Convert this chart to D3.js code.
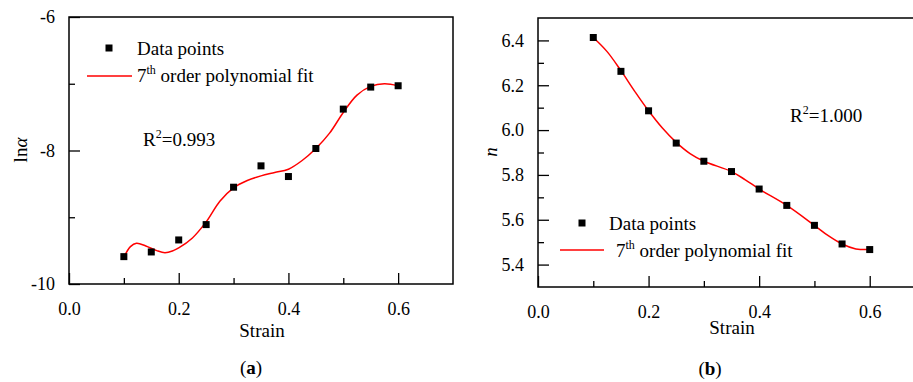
<!DOCTYPE html>
<html>
<head>
<meta charset="utf-8">
<script src="https://cdn.jsdelivr.net/npm/d3@7"></script>
<style>
  body { margin: 0; background: #fff; }
  svg { display: block; }
  svg text { font-family: "Liberation Serif", "Tinos", "Times New Roman", "DejaVu Serif", serif; }
</style>
</head>
<body>
<svg id="chart" width="913" height="382"></svg>
<script>
// ---- data ----
const strain = [0.10, 0.15, 0.20, 0.25, 0.30, 0.35, 0.40, 0.45, 0.50, 0.55, 0.60];

const lnAlpha = [-9.59, -9.52, -9.34, -9.11, -8.55, -8.23, -8.39, -7.97, -7.38, -7.05, -7.03];
const lnAlphaFitX = [0.100, 0.112, 0.123, 0.140, 0.160, 0.175, 0.190, 0.200, 0.225, 0.250, 0.275,
                     0.300, 0.325, 0.350, 0.375, 0.400, 0.425, 0.450, 0.475, 0.500, 0.525, 0.550, 0.575, 0.600];
const lnAlphaFitY = [-9.60, -9.44, -9.39, -9.43, -9.50, -9.53, -9.50, -9.46, -9.31, -9.07, -8.76,
                     -8.56, -8.45, -8.38, -8.33, -8.28, -8.15, -7.97, -7.74, -7.43, -7.17, -7.04, -7.00, -7.03];

const nValues = [6.413, 6.262, 6.086, 5.942, 5.861, 5.815, 5.737, 5.664, 5.575, 5.492, 5.467];
const nFitX = [0.100, 0.125, 0.150, 0.175, 0.200, 0.225, 0.250, 0.275, 0.300, 0.350, 0.375,
               0.400, 0.450, 0.500, 0.525, 0.550, 0.575, 0.600];
const nFitY = [6.413, 6.350, 6.265, 6.173, 6.086, 6.009, 5.945, 5.895, 5.861, 5.815, 5.778,
               5.737, 5.664, 5.575, 5.529, 5.492, 5.470, 5.467];

const xMajorTicks = [0.0, 0.2, 0.4, 0.6];
const xMinorTicks = [0.1, 0.3, 0.5];
const lnAlphaMajorTicks = [-10, -8, -6];
const lnAlphaMinorTicks = [-9, -7];
const nMajorTicks = [5.4, 5.6, 5.8, 6.0, 6.2, 6.4];
const nMinorTicks = [5.5, 5.7, 5.9, 6.1, 6.3];

const legendLabels = ["Data points", "order polynomial fit"];

const svg = d3.select("#chart");

function drawPanel(p) {
    const x = d3.scaleLinear().domain([0, 0.7]).range([p.left, p.right]);
    const y = d3.scaleLinear().domain(p.yDomain).range([p.bottom, p.top]);
    const g = svg.append("g");

    // frame
    g.append("rect")
        .attr("x", p.left).attr("y", p.top)
        .attr("width", p.right - p.left).attr("height", p.bottom - p.top)
        .attr("fill", "none").attr("stroke", "#000").attr("stroke-width", 1.5);

    // x axis: major + minor ticks pointing inward
    g.append("g").attr("class", "ax").attr("transform", `translate(0,${p.bottom})`)
        .call(d3.axisBottom(x).tickValues(xMajorTicks).tickSize(-11).tickSizeOuter(0)
              .tickPadding(18).tickFormat(d3.format(".1f")));
    g.append("g").attr("class", "ax").attr("transform", `translate(0,${p.bottom})`)
        .call(d3.axisBottom(x).tickValues(xMinorTicks).tickSize(-6).tickSizeOuter(0).tickFormat(""));

    // y axis
    g.append("g").attr("class", "ax").attr("transform", `translate(${p.left},0)`)
        .call(d3.axisLeft(y).tickValues(p.yMajor).tickSize(-11).tickSizeOuter(0)
              .tickPadding(14).tickFormat(p.yFormat));
    g.append("g").attr("class", "ax").attr("transform", `translate(${p.left},0)`)
        .call(d3.axisLeft(y).tickValues(p.yMinor).tickSize(-6).tickSizeOuter(0).tickFormat(""));

    g.selectAll(".ax").attr("font-family", null).attr("font-size", null);
    g.selectAll(".domain").remove();
    g.selectAll(".tick line").attr("stroke", "#000").attr("stroke-width", 1.3);
    g.selectAll(".tick text").attr("font-size", 18).attr("fill", "#000");

    // fit curve
    const fit = p.fitX.map((v, i) => [v, p.fitY[i]]);
    g.append("path")
        .datum(fit)
        .attr("fill", "none").attr("stroke", "#ff0000").attr("stroke-width", 1.5)
        .attr("d", d3.line().x(d => x(d[0])).y(d => y(d[1])).curve(d3.curveCatmullRom.alpha(0.5)));

    // data points
    const s = 7;
    g.selectAll("rect.pt")
        .data(strain.map((v, i) => [v, p.values[i]]))
        .join("rect").attr("class", "pt")
        .attr("x", d => x(d[0]) - s / 2).attr("y", d => y(d[1]) - s / 2)
        .attr("width", s).attr("height", s).attr("fill", "#000");

    // legend
    g.append("rect")
        .attr("x", p.legend.markerX - 3.5).attr("y", p.legend.markerY - 3.5)
        .attr("width", 7).attr("height", 7).attr("fill", "#000");
    g.append("text").attr("x", p.legend.text1X).attr("y", p.legend.text1Y)
        .attr("font-size", 19).text(legendLabels[0]);
    g.append("line")
        .attr("x1", p.legend.lineX1).attr("x2", p.legend.lineX2)
        .attr("y1", p.legend.lineY).attr("y2", p.legend.lineY)
        .attr("stroke", "#ff0000").attr("stroke-width", 1.5);
    const t2 = g.append("text").attr("x", p.legend.text2X).attr("y", p.legend.text2Y).attr("font-size", 19);
    t2.append("tspan").text("7");
    t2.append("tspan").attr("font-size", 12).attr("dy", -8).text("th");
    t2.append("tspan").attr("dy", 8).text(" " + legendLabels[1]);

    // R^2
    const r = g.append("text").attr("x", p.r2.x).attr("y", p.r2.y).attr("font-size", 19);
    r.append("tspan").text("R");
    r.append("tspan").attr("font-size", 12).attr("dy", -8).text("2");
    r.append("tspan").attr("dy", 8).text("=" + p.r2.text);

    // axis titles
    g.append("text").attr("x", p.xTitle.x).attr("y", p.xTitle.y)
        .attr("text-anchor", "middle").attr("font-size", 19).text("Strain");
    const yt = g.append("text")
        .attr("transform", `translate(${p.yTitle.x},${p.yTitle.y}) rotate(-90)`)
        .attr("text-anchor", "middle").attr("font-size", 19);
    p.yTitle.parts.forEach(part => {
        yt.append("tspan").attr("font-style", part.italic ? "italic" : null).text(part.t);
    });

    // panel letter
    const pl = g.append("text").attr("x", p.panel.x).attr("y", p.panel.y)
        .attr("text-anchor", "middle").attr("font-size", 19);
    pl.append("tspan").text("(");
    pl.append("tspan").attr("font-weight", "bold").text(p.panel.letter);
    pl.append("tspan").text(")");
}

drawPanel({
    left: 69, right: 453, top: 17, bottom: 284,
    yDomain: [-10, -6], yMajor: lnAlphaMajorTicks, yMinor: lnAlphaMinorTicks, yFormat: d => String(d),
    values: lnAlpha, fitX: lnAlphaFitX, fitY: lnAlphaFitY,
    legend: { markerX: 109, markerY: 48, text1X: 137, text1Y: 55, lineX1: 87, lineX2: 132, lineY: 76, text2X: 137, text2Y: 82 },
    r2: { x: 143, y: 146, text: "0.993" },
    xTitle: { x: 262, y: 337 },
    yTitle: { x: 27, y: 150, parts: [{ t: "ln" }, { t: "α", italic: true }] },
    panel: { x: 251, y: 374, letter: "a" }
});

drawPanel({
    left: 538, right: 925, top: 18, bottom: 287,
    yDomain: [5.3, 6.5], yMajor: nMajorTicks, yMinor: nMinorTicks, yFormat: d3.format(".1f"),
    values: nValues, fitX: nFitX, fitY: nFitY,
    legend: { markerX: 582, markerY: 223, text1X: 609, text1Y: 230, lineX1: 560, lineX2: 604, lineY: 250, text2X: 616, text2Y: 257 },
    r2: { x: 790, y: 122, text: "1.000" },
    xTitle: { x: 732, y: 334 },
    yTitle: { x: 497, y: 152, parts: [{ t: "n", italic: true }] },
    panel: { x: 710, y: 375, letter: "b" }
});
</script>
</body>
</html>
